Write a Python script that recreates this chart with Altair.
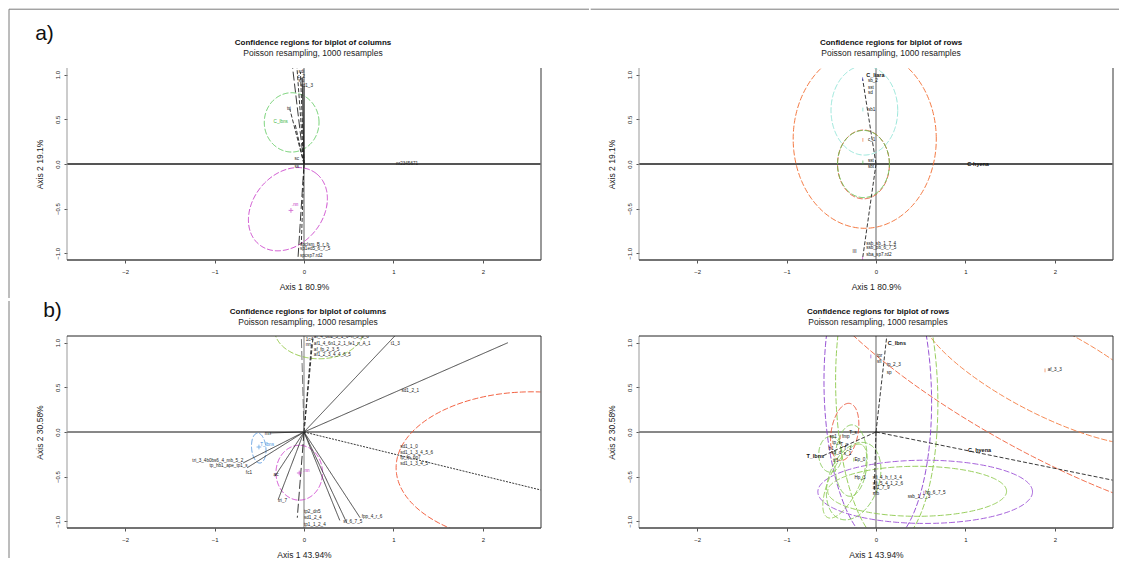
import altair as alt
import numpy as np
import pandas as pd

FONT = "Liberation Sans"
W, H = 474, 192
XDOM = [-2.65, 2.65]
YDOM = [-1.075, 1.075]
XTICKS = [-2, -1, 0, 1, 2]
YTICKS = [-1.0, -0.5, 0.0, 0.5, 1.0]

TITLE_COLS = "Confidence regions for biplot of columns"
TITLE_ROWS = "Confidence regions for biplot of rows"
SUBTITLE = "Poisson resampling, 1000 resamples"
XLAB_A = "Axis 1  80.9%"
YLAB_A = "Axis 2  19.1%"
XLAB_B = "Axis 1  43.94%"
YLAB_B = "Axis 2  30.58%"

# ---------------- panel a) columns ----------------
AL_SEG_X = [-0.13, -0.08, -0.04, -0.02, 0.0, -0.16, -0.10, -0.07, -0.03]
AL_SEG_Y = [1.10, 1.10, 1.03, 0.97, 0.87, 0.62, 0.45, -1.10, -0.90]
AL_SEG_STYLE = ["long", "dash", "dash", "solid", "solid", "dash", "dash", "long", "dash"]
AL_SEG_COL = ["#222"] * 9

AL_LAB_TEXT = ["sdi", "c_2", "slu", "sd1_3", "tri", "C_lbns", "sc", "ss", "nr2345671",
               ".nn", "spclsm_B_r_b", "sp1ed5_6_7_5", "spcsp7.rd2"]
AL_LAB_X = [-0.03, -0.03, -0.03, 0.03, -0.17, -0.26, -0.08, -0.08, 1.03,
            -0.10, -0.045, -0.045, -0.045]
AL_LAB_Y = [1.03, 0.97, 0.93, 0.87, 0.62, 0.47, 0.056, -0.03, 0.0,
            -0.46, -0.91, -0.957, -1.03]
AL_LAB_COL = ["#222", "#222", "#222", "#222", "#222", "#3cb43c", "#222", "#222", "#222",
              "#c030c0", "#222", "#222", "#222"]
AL_LAB_ALIGN = ["center", "center", "center", "center", "center", "center", "center", "center", "left",
                "center", "left", "left", "left"]
AL_LAB_BOLD = [False] * 13

AL_PT_X = [-0.146]
AL_PT_Y = [-0.52]
AL_PT_COL = ["#c030c0"]
AL_PT_SHAPE = ["plus"]

AL_ELL_CX = [-0.138, -0.18]
AL_ELL_CY = [0.466, -0.506]
AL_ELL_A = [0.306, 0.51]
AL_ELL_B = [0.332, 0.39]
AL_ELL_ANG = [0, 51]
AL_ELL_COL = ["#5cc85c", "#c83cc8"]

# ---------------- panel a) rows ----------------
AR_SEG_X = [-0.15, -0.15]
AR_SEG_Y = [0.955, -1.06]
AR_SEG_STYLE = ["dash", "dash"]
AR_SEG_COL = ["#222", "#222"]

AR_LAB_TEXT = ["C_liara", "sb_2", "sst", "sd", "sb1", "c_1", "sst", "sbt", "C-hyena",
               "ssb_sb_1_7_4", "ssb_pb_6_7_5", "sba_sp7.rd2", "III"]
AR_LAB_X = [-0.11, -0.09, -0.09, -0.09, -0.09, -0.09, -0.09, -0.09, 1.02,
            -0.11, -0.11, -0.11, -0.24]
AR_LAB_Y = [1.0, 0.93, 0.856, 0.80, 0.61, 0.27, 0.037, -0.03, 0.0,
            -0.894, -0.94, -1.017, -0.99]
AR_LAB_COL = ["#111"] * 13
AR_LAB_ALIGN = ["left"] * 12 + ["center"]
AR_LAB_BOLD = [True, False, False, False, False, False, False, False, True,
               False, False, False, False]

AR_PT_X = [-0.15, -0.147, -0.147, -0.147, -0.15]
AR_PT_Y = [0.95, 0.61, 0.27, 0.018, -1.06]
AR_PT_COL = ["#5050d0", "#60d0c0", "#f07030", "#40b040", "#d040d0"]
AR_PT_SHAPE = ["bar"] * 5

AR_ELL_CX = [-0.126, -0.13, -0.14, -0.14]
AR_ELL_CY = [0.28, 0.60, -0.005, 0.0]
AR_ELL_A = [0.80, 0.373, 0.29, 0.29]
AR_ELL_B = [1.0, 0.50, 0.385, 0.376]
AR_ELL_ANG = [0, 0, 0, 0]
AR_ELL_COL = ["#f26a2c", "#8ee3d6", "#e34a2a", "#5cbf4a"]

# ---------------- panel b) columns ----------------
BL_SEG_X = [-0.03, 0.085, 0.10, 1.02, 2.28, 2.65, -0.38, -0.68, -0.635, -0.325, -0.288,
            -0.075, 0.40, 0.478, 0.627]
BL_SEG_Y = [1.08, 1.00, 1.05, 1.08, 1.00, -0.65, -0.01, -0.346, -0.40, -0.495, -0.755,
            -0.96, -0.99, -1.017, -0.96]
BL_SEG_STYLE = ["long", "dash", "dash", "solid", "solid", "dot", "solid", "solid", "solid", "solid",
                "solid", "long", "solid", "solid", "solid"]
BL_SEG_COL = ["#666", "#222", "#222", "#333", "#333", "#222", "#333", "#333", "#333", "#333",
              "#333", "#222", "#333", "#333", "#333"]

BL_LAB_TEXT = ["1c4", "nn", "af_4_6b2_5_1_6=n_5_8_6", "af1_4_6n1_2_1_fe1_n_A_1", "af_fp_2_3_5",
               "af1_2_3_4_4_6_5", "t1_3", "sd1_2_1", "sd1_1_0", "sd1_1_3_4_5_6", "fp_fp_6p7",
               "sd1_1_3_4_5", "mn", "T_lbns", "tri_3_4b0bs6_4_mb_5_2", "tp_hb1_ape_tp1_s",
               "fc1", "ac", "tri_7", ".nn", "tp2_dn5", "sd1_2_4", "tp1_1_2_4", "sf_6_7_5",
               "fpp_4_r_6"]
BL_LAB_X = [0.02, 0.02, 0.11, 0.11, 0.11, 0.11, 0.97, 1.09, 1.075, 1.075, 1.075, 1.075,
            -0.44, -0.49, -0.68, -0.63, -0.65, -0.34, -0.29, -0.01, 0.0, 0.0, 0.0, 0.44, 0.645]
BL_LAB_Y = [1.03, 0.97, 1.06, 0.985, 0.92, 0.857, 0.983, 0.455, -0.171, -0.235, -0.29, -0.357,
            -0.02, -0.14, -0.327, -0.384, -0.458, -0.485, -0.775, -0.44, -0.894, -0.968,
            -1.046, -1.01, -0.95]
BL_LAB_COL = ["#222"] * 13 + ["#3f8fdc"] + ["#222"] * 5 + ["#c030c0"] + ["#222"] * 5
BL_LAB_ALIGN = ["left"] * 14 + ["right", "right"] + ["left"] * 9
BL_LAB_BOLD = [False] * 25

BL_PT_X = [-0.504, -0.053]
BL_PT_Y = [-0.168, -0.459]
BL_PT_COL = ["#3f8fdc", "#c030c0"]
BL_PT_SHAPE = ["plus", "plus"]

BL_ELL_CX = [0.17, -0.506, -0.053, 2.55]
BL_ELL_CY = [1.15, -0.18, -0.456, -0.40]
BL_ELL_A = [0.50, 0.168, 0.307, 1.52]
BL_ELL_B = [0.33, 0.08, 0.26, 0.85]
BL_ELL_ANG = [0, 95, 90, 0]
BL_ELL_COL = ["#8cc43c", "#4a90dc", "#cc3ccc", "#f0502d"]

# ---------------- panel b) rows ----------------
BR_SEG_X = [0.12, 2.65, -0.60, -0.02]
BR_SEG_Y = [1.07, -0.54, -0.27, -0.68]
BR_SEG_STYLE = ["dash", "dash", "dash", "dash"]
BR_SEG_COL = ["#222"] * 4

BR_LAB_TEXT = ["C_lbns", "tpr", "sfl", "tp_2_3", "sp", "af_3_3", "C_hyena", "T_lbns",
               "sp1", "fmp", "T_s", "tp_s", "T_n", "h1", "T_1", "sp_d", "s_1", "tr1", "Ep_0",
               "Hp_3", "sfi_4_h_f_3_4", "sfi_5_4_1_2_6", "af1_7_9", "sfb", "hp_6_7_5", "ssb_1_7_3"]
BR_LAB_X = [0.13, 0.01, 0.01, 0.12, 0.12, 1.92, 1.03, -0.58,
            -0.52, -0.38, -0.30, -0.49, -0.40, -0.53, -0.36, -0.50, -0.36, -0.48, -0.24,
            -0.24, -0.035, -0.035, -0.035, -0.035, 0.55, 0.355]
BR_LAB_Y = [1.0, 0.846, 0.78, 0.745, 0.66, 0.69, -0.197, -0.264,
            -0.056, -0.056, -0.01, -0.12, -0.15, -0.19, -0.19, -0.24, -0.25, -0.33, -0.31,
            -0.52, -0.51, -0.577, -0.63, -0.69, -0.68, -0.73]
BR_LAB_COL = ["#111"] * 26
BR_LAB_ALIGN = ["left"] * 7 + ["right"] + ["left"] * 18
BR_LAB_BOLD = [True, False, False, False, False, False, True, True] + [False] * 18

BR_PT_X = [-0.058, 1.89, 0.535, -0.25, -0.40]
BR_PT_Y = [0.846, 0.69, -0.68, -0.31, -0.06]
BR_PT_COL = ["#8b3fcf", "#f07030", "#9b4fd6", "#7cc44a", "#e8472a"]
BR_PT_SHAPE = ["bar"] * 5

BR_ELL_CX = [1.90, 1.90, 0.02, 0.12, 0.55, 0.46, -0.35, -0.28, -0.51, -0.25, -0.35]
BR_ELL_CY = [0.69, 0.69, 0.45, 0.45, -0.67, -0.664, 0.0, -0.32, -0.25, -0.55, -0.55]
BR_ELL_A = [3.186, 1.567, 1.72, 1.72, 1.20, 1.00, 0.325, 0.40, 0.20, 0.45, 0.45]
BR_ELL_B = [0.921, 0.485, 0.60, 0.57, 0.354, 0.28, 0.15, 0.18, 0.13, 0.28, 0.17]
BR_ELL_ANG = [-28.9, -27.4, 91.6, 91.6, 0, 0, 80, 88, 90, 70, 65]
BR_ELL_COL = ["#f0603a", "#f47b3e", "#8b3fcf", "#8cc84b", "#9b4fd6", "#8cc84b",
              "#e8472a", "#7cc44a", "#7cc44a", "#7cc44a", "#8cc84b"]

DASH = {"solid": [1, 0], "dash": [4, 2], "long": [9, 3], "dot": [2, 1.2]}

xs = alt.Scale(domain=XDOM, nice=False, zero=False)
ys = alt.Scale(domain=YDOM, nice=False, zero=False)


def x_axis(title):
    return alt.Axis(title=title, values=XTICKS, format="d", domain=False, grid=False,
                    tickSize=3, tickColor="#555", labelFontSize=6, labelColor="#222",
                    labelPadding=5, labelFont=FONT, labelFlush=False, labelOverlap=False,
                    titleFont=FONT, titleFontSize=8.5, titleFontWeight="normal",
                    titleColor="#222", titlePadding=8)


def y_axis(title):
    return alt.Axis(title=title, values=YTICKS, format=".1f", domain=False, grid=False,
                    tickSize=3, tickColor="#555", labelFontSize=6, labelColor="#222",
                    labelAngle=270, labelAlign="center", labelBaseline="bottom",
                    labelPadding=4, labelFont=FONT, labelFlush=False, labelOverlap=False,
                    titleFont=FONT, titleFontSize=8.5, titleFontWeight="normal",
                    titleColor="#222", titlePadding=10)


def ellipse_frame(cx, cy, a, b, ang, col):
    rows = []
    t = np.linspace(0, 2 * np.pi, 241)
    for i in range(len(cx)):
        th = np.deg2rad(ang[i])
        ex = cx[i] + a[i] * np.cos(t) * np.cos(th) - b[i] * np.sin(t) * np.sin(th)
        ey = cy[i] + a[i] * np.cos(t) * np.sin(th) + b[i] * np.sin(t) * np.cos(th)
        for k in range(len(t)):
            rows.append({"x": ex[k], "y": ey[k], "k": k, "id": i, "c": col[i]})
    return pd.DataFrame(rows)


def text_decor(txt, x, y, size, weight="normal", color="#111"):
    return alt.Chart(pd.DataFrame({"t": [txt]})).mark_text(
        font=FONT, fontSize=size, fontWeight=weight, align="center", baseline="middle",
        color=color).encode(text="t:N", x=alt.value(x), y=alt.value(y))


def build_panel(seg, lab, pts, ell, title, xlab, ylab, tdx, ty, zero_h, zero_v,
                top_frame, extras):
    ax, ay = x_axis(xlab), y_axis(ylab)
    X = lambda f: alt.X(f, type="quantitative", scale=xs, axis=ax)
    Y = lambda f: alt.Y(f, type="quantitative", scale=ys, axis=ay)
    layers = []
    zero = pd.DataFrame({"z": [0.0]})
    layers.append(alt.Chart(zero).mark_rule(color=zero_v[0], strokeWidth=zero_v[1]).encode(x=X("z")))
    layers.append(alt.Chart(zero).mark_rule(color=zero_h[0], strokeWidth=zero_h[1]).encode(y=Y("z")))

    edf = ellipse_frame(*ell)
    layers.append(alt.Chart(edf).mark_line(strokeWidth=0.9, strokeDash=[6, 2], clip=True).encode(
        x=X("x"), y=Y("y"), order="k:Q", detail="id:N", color=alt.Color("c:N", scale=None)))

    sx, sy, sst, scol = seg
    sdf = pd.DataFrame({"x0": 0.0, "y0": 0.0, "x1": sx, "y1": sy, "s": sst, "c": scol})
    for style in ["solid", "dash", "long", "dot"]:
        d = sdf[sdf.s == style]
        if len(d) == 0:
            continue
        layers.append(alt.Chart(d).mark_rule(strokeWidth=0.9, strokeDash=DASH[style], clip=True).encode(
            x=X("x0"), y=Y("y0"), x2="x1", y2="y1", color=alt.Color("c:N", scale=None)))

    px, py, pcol, pshape = pts
    pdf = pd.DataFrame({"x": px, "y": py, "c": pcol, "s": pshape})
    shapes = {"plus": ("M-1,0L1,0M0,-1L0,1", 22), "bar": ("M0,-1L0,1", 14)}
    for sname, (path, size) in shapes.items():
        d = pdf[pdf.s == sname]
        if len(d) == 0:
            continue
        layers.append(alt.Chart(d).mark_point(shape=path, filled=False, size=size, strokeWidth=0.9,
                                              clip=True).encode(
            x=X("x"), y=Y("y"), color=alt.Color("c:N", scale=None)))

    lt, lx, ly, lcol, lal, lbold = lab
    ldf = pd.DataFrame({"t": lt, "x": lx, "y": ly, "c": lcol, "a": lal, "b": lbold})
    for al in ["left", "center", "right"]:
        for bold in [False, True]:
            d = ldf[(ldf.a == al) & (ldf.b == bold)]
            if len(d) == 0:
                continue
            layers.append(alt.Chart(d).mark_text(
                align=al, baseline="middle", font=FONT, fontSize=5.5 if bold else 4.6,
                fontWeight="bold" if bold else "normal", clip=True).encode(
                x=X("x"), y=Y("y"), text="t:N", color=alt.Color("c:N", scale=None)))

    one = pd.DataFrame({"o": [0]})
    frame = [
        (dict(x=alt.value(0), y=alt.value(0), y2=alt.value(H)), "#999", 1.0),
        (dict(x=alt.value(W), y=alt.value(0), y2=alt.value(H)), "#777", 1.5),
        (dict(x=alt.value(0), x2=alt.value(W), y=alt.value(H)), "#444", 1.5),
    ]
    if top_frame:
        frame.append((dict(x=alt.value(0), x2=alt.value(W), y=alt.value(0)), "#222", 1.0))
    for enc, col, sw in frame:
        layers.append(alt.Chart(one).mark_rule(color=col, strokeWidth=sw).encode(**enc))

    # panel heading (title + subtitle)
    layers.append(text_decor(title, W / 2 + tdx, ty, 8, "bold", "#111"))
    layers.append(text_decor(SUBTITLE, W / 2 + tdx, ty + 10, 8.5, "normal", "#222"))
    for e in extras:
        layers.append(e)

    return alt.layer(*layers).properties(width=W, height=H)


one = pd.DataFrame({"o": [0]})
BORDER = "#7a7a7a"

al_extra = [
    alt.Chart(one).mark_rule(color=BORDER, strokeWidth=1).encode(
        x=alt.value(-58), x2=alt.value(522), y=alt.value(-58.8)),
    alt.Chart(one).mark_rule(color=BORDER, strokeWidth=1).encode(
        x=alt.value(-58), y=alt.value(-58.8), y2=alt.value(230)),
    text_decor("a)", -22.5, -34.3, 21),
]
ar_extra = [
    alt.Chart(one).mark_rule(color=BORDER, strokeWidth=1).encode(
        x=alt.value(-48.3), x2=alt.value(480), y=alt.value(-58.8)),
]
bl_extra = [
    alt.Chart(one).mark_rule(color=BORDER, strokeWidth=1).encode(
        x=alt.value(-58), y=alt.value(-35), y2=alt.value(222)),
    text_decor("b)", -14.5, -25.3, 21),
]

p_al = build_panel((AL_SEG_X, AL_SEG_Y, AL_SEG_STYLE, AL_SEG_COL),
                   (AL_LAB_TEXT, AL_LAB_X, AL_LAB_Y, AL_LAB_COL, AL_LAB_ALIGN, AL_LAB_BOLD),
                   (AL_PT_X, AL_PT_Y, AL_PT_COL, AL_PT_SHAPE),
                   (AL_ELL_CX, AL_ELL_CY, AL_ELL_A, AL_ELL_B, AL_ELL_ANG, AL_ELL_COL),
                   TITLE_COLS, XLAB_A, YLAB_A, 9, -25.3, ("#555", 2), ("#999", 1.5), False, al_extra)
p_ar = build_panel((AR_SEG_X, AR_SEG_Y, AR_SEG_STYLE, AR_SEG_COL),
                   (AR_LAB_TEXT, AR_LAB_X, AR_LAB_Y, AR_LAB_COL, AR_LAB_ALIGN, AR_LAB_BOLD),
                   (AR_PT_X, AR_PT_Y, AR_PT_COL, AR_PT_SHAPE),
                   (AR_ELL_CX, AR_ELL_CY, AR_ELL_A, AR_ELL_B, AR_ELL_ANG, AR_ELL_COL),
                   TITLE_ROWS, XLAB_A, YLAB_A, 15, -25.3, ("#555", 2), ("#999", 1.5), False, ar_extra)
p_bl = build_panel((BL_SEG_X, BL_SEG_Y, BL_SEG_STYLE, BL_SEG_COL),
                   (BL_LAB_TEXT, BL_LAB_X, BL_LAB_Y, BL_LAB_COL, BL_LAB_ALIGN, BL_LAB_BOLD),
                   (BL_PT_X, BL_PT_Y, BL_PT_COL, BL_PT_SHAPE),
                   (BL_ELL_CX, BL_ELL_CY, BL_ELL_A, BL_ELL_B, BL_ELL_ANG, BL_ELL_COL),
                   TITLE_COLS, XLAB_B, YLAB_B, 4, -23.6, ("#111", 1), ("#aaa", 1.5), True, bl_extra)
p_br = build_panel((BR_SEG_X, BR_SEG_Y, BR_SEG_STYLE, BR_SEG_COL),
                   (BR_LAB_TEXT, BR_LAB_X, BR_LAB_Y, BR_LAB_COL, BR_LAB_ALIGN, BR_LAB_BOLD),
                   (BR_PT_X, BR_PT_Y, BR_PT_COL, BR_PT_SHAPE),
                   (BR_ELL_CX, BR_ELL_CY, BR_ELL_A, BR_ELL_B, BR_ELL_ANG, BR_ELL_COL),
                   TITLE_ROWS, XLAB_B, YLAB_B, 2, -23.6, ("#111", 1), ("#999", 1.5), True, [])

chart = alt.concat(p_al, p_ar, p_bl, p_br, columns=2, spacing=0).properties(
    padding=0, background="white"
).configure_view(stroke=None)

chart.save("out.html", embed_options={"renderer": "svg", "actions": False})
